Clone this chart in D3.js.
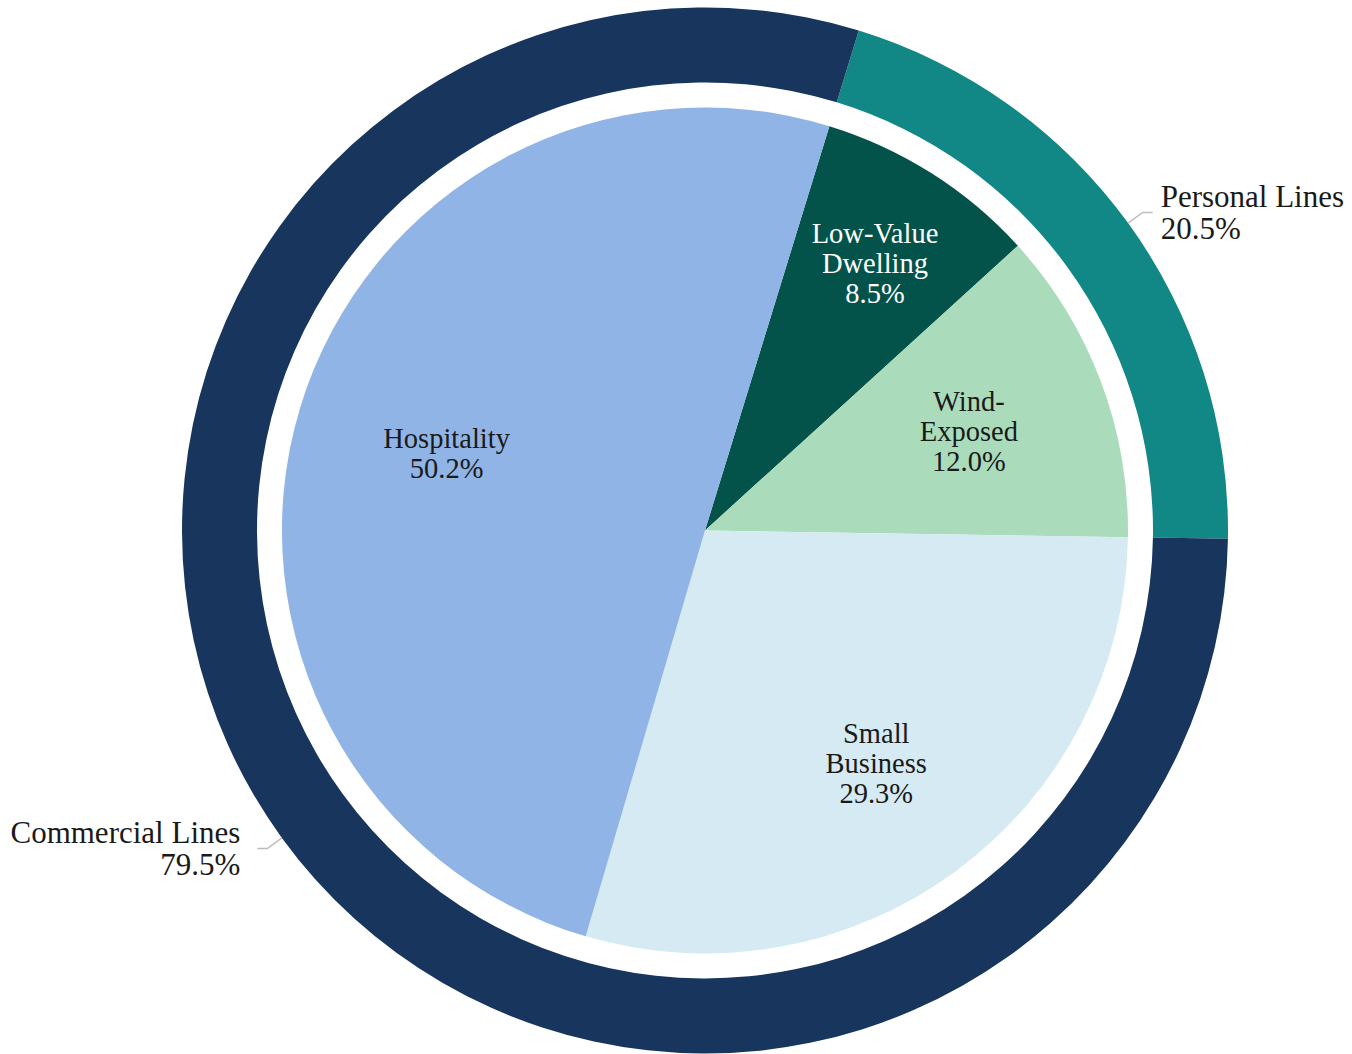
<!DOCTYPE html>
<html>
<head>
<meta charset="utf-8">
<script src="https://cdn.jsdelivr.net/npm/d3@7.9.0/dist/d3.min.js"></script>
<style>
  html, body { margin: 0; padding: 0; background: #fff; }
  svg { display: block; }
  text { font-family: "Liberation Serif", "DejaVu Serif", serif; fill: #1a1a1a; }
</style>
</head>
<body>
<div id="chart"></div>
<script>
// outer ring: lines of business
const outerNames = ['Personal Lines', 'Commercial Lines'];
const outerValues = [20.5, 79.5];
const outerColors = ['#118886', '#18365d'];

// inner pie: segments
const innerNames = [['Low-Value', 'Dwelling'], ['Wind-', 'Exposed'], ['Small', 'Business'], ['Hospitality']];
const innerValues = [8.5, 12.0, 29.3, 50.2];
const innerColors = ['#03534a', '#aadcbc', '#d5eaf2', '#8fb4e5'];
const innerTextColors = ['#ffffff', '#1a1a1a', '#1a1a1a', '#1a1a1a'];
// how far out (fraction of radius) each inner label sits
const innerLabelPos = [0.75, 0.667, 0.683, 0.638];

const width = 1352;
const height = 1054;
const cx = 705, cy = 530.5;
const rOuter = 523, rRingInner = 448, rPie = 423;
const startAngle = 17.1 * Math.PI / 180;

const svg = d3.select('#chart')
  .append('svg')
  .attr('width', width)
  .attr('height', height);

const g = svg.append('g').attr('transform', `translate(${cx},${cy})`);

const pie = d3.pie()
  .sort(null)
  .value(d => d)
  .startAngle(startAngle)
  .endAngle(startAngle + 2 * Math.PI);

// outer ring
const outerArcs = pie(outerValues);
const ringArc = d3.arc().innerRadius(rRingInner).outerRadius(rOuter);

g.append('g')
  .selectAll('path')
  .data(outerArcs)
  .join('path')
  .attr('d', ringArc)
  .attr('fill', (d, i) => outerColors[i]);

// inner pie
const innerArcs = pie(innerValues);
const pieArc = d3.arc().innerRadius(0).outerRadius(rPie);

g.append('g')
  .selectAll('path')
  .data(innerArcs)
  .join('path')
  .attr('d', pieArc)
  .attr('fill', (d, i) => innerColors[i]);

// inner labels
const innerFont = 28.5, innerLine = 30;
const midAngle = d => (d.startAngle + d.endAngle) / 2;

innerArcs.forEach((d, i) => {
  const a = midAngle(d);
  const r = rPie * innerLabelPos[i];
  const x = r * Math.sin(a);
  const y = -r * Math.cos(a);
  const lines = [...innerNames[i], innerValues[i].toFixed(1) + '%'];
  const t = g.append('text')
    .attr('text-anchor', 'middle')
    .style('font-size', innerFont + 'px')
    .style('fill', innerTextColors[i]);
  lines.forEach((s, k) => {
    t.append('tspan')
      .attr('x', x)
      .attr('y', y + (k - (lines.length - 1) / 2) * innerLine + 0.35 * innerFont)
      .text(s);
  });
});

// outer labels with leader lines
const outerFont = 31, outerLine = 32;

outerArcs.forEach((d, i) => {
  const a = midAngle(d);
  const p0 = [rOuter * Math.sin(a), -rOuter * Math.cos(a)];
  const p1 = [(rOuter + 18) * Math.sin(a), -(rOuter + 18) * Math.cos(a)];
  const side = Math.sin(a) >= 0 ? 1 : -1;
  const p2 = [p1[0] + side * 10, p1[1]];

  g.append('path')
    .attr('d', d3.line()([p0, p1, p2]))
    .attr('fill', 'none')
    .attr('stroke', '#bdbdbd')
    .attr('stroke-width', 1.5);

  const lines = [outerNames[i], outerValues[i].toFixed(1) + '%'];
  const tx = p2[0] + side * (side > 0 ? 8 : 17);
  const t = g.append('text')
    .attr('text-anchor', side > 0 ? 'start' : 'end')
    .style('font-size', outerFont + 'px');
  lines.forEach((s, k) => {
    t.append('tspan')
      .attr('x', tx)
      .attr('y', p2[1] + (k - 0.5) * outerLine + 0.35 * outerFont)
      .text(s);
  });
});
</script>
</body>
</html>
